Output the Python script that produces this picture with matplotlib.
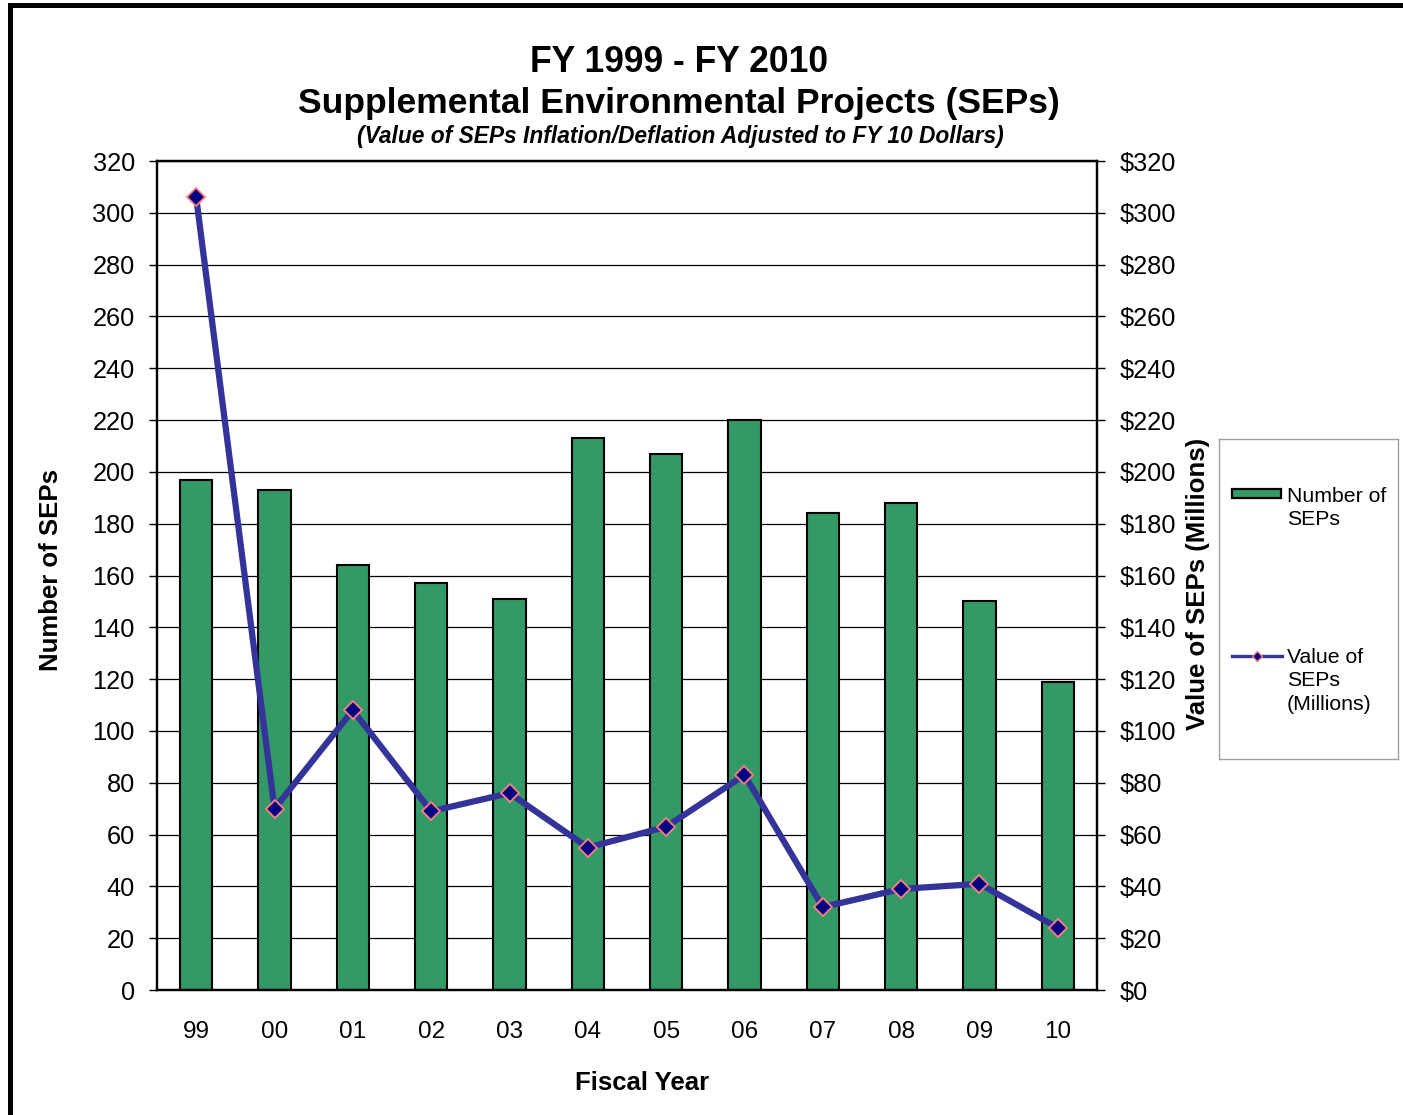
import matplotlib.pyplot as plt
from matplotlib.lines import Line2D
from matplotlib.patches import Rectangle
from matplotlib.ticker import FuncFormatter, MultipleLocator

plt.rcParams['font.family'] = ['Liberation Sans', 'DejaVu Sans']

years = ['99', '00', '01', '02', '03', '04', '05', '06', '07', '08', '09', '10']
num_seps = [197, 193, 164, 157, 151, 213, 207, 220, 184, 188, 150, 119]
value_seps = [306, 70, 108, 69, 76, 55, 63, 83, 32, 39, 41, 24]

bar_green = '#339966'
line_blue = '#333399'
marker_face = '#000080'
marker_edge = '#FF8080'

W, H = 1403, 1115
fig = plt.figure(figsize=(W / 100, H / 100), dpi=100)
ax = fig.add_axes([157 / W, 1 - 990 / H, (1097 - 157) / W, (990 - 161) / H])

x = list(range(len(years)))
ax.bar(x, num_seps, width=0.41, color=bar_green, edgecolor='black', linewidth=1.5, zorder=2)
ax.set_xlim(-0.5, len(years) - 0.5)
ax.set_ylim(0, 320)
ax.yaxis.set_major_locator(MultipleLocator(20))
ax.grid(axis='y', color='black', linewidth=0.9, zorder=1)
ax.set_axisbelow(True)
ax.set_xticks(x)
ax.set_xticklabels(years)
ax.tick_params(axis='x', length=0, pad=22, labelsize=17.5)
ax.tick_params(axis='y', length=6, width=1, labelsize=18.3, pad=10)
ax.set_ylabel('Number of SEPs', fontsize=18.5, fontweight='bold')
ax.yaxis.set_label_coords(-0.1, 0.507)
ax.set_xlabel('Fiscal Year', fontsize=18.5, fontweight='bold')
ax.xaxis.set_label_coords(0.516, -0.098)
for s in ax.spines.values():
    s.set_linewidth(1.6)

ax2 = ax.twinx()
ax2.set_ylim(0, 320)
ax2.yaxis.set_major_locator(MultipleLocator(20))
ax2.yaxis.set_major_formatter(FuncFormatter(lambda v, p: '$%d' % v))
ax2.tick_params(axis='y', length=6, width=1, labelsize=18.3, pad=10)
ax2.plot(x, value_seps, color=line_blue, linewidth=4.5, marker='D', markersize=9.5,
         markerfacecolor=marker_face, markeredgecolor=marker_edge, markeredgewidth=1.3,
         zorder=3)
ax2.set_ylabel('Value of SEPs (Millions)', fontsize=18.5, fontweight='bold')
ax2.yaxis.set_label_coords(1.095, 0.49)
for s in ax2.spines.values():
    s.set_linewidth(1.6)

fig.text(679 / W, 1 - 63 / H, 'FY 1999 - FY 2010', ha='center', va='center',
         fontsize=25.6, fontweight='bold')
fig.text(679 / W, 1 - 104 / H, 'Supplemental Environmental Projects (SEPs)', ha='center',
         va='center', fontsize=25.5, fontweight='bold')
fig.text(680 / W, 1 - 137 / H, '(Value of SEPs Inflation/Deflation Adjusted to FY 10 Dollars)',
         ha='center', va='center', fontsize=16.4, fontweight='bold', style='italic')

# legend, drawn in its own box (pixel units inside the box, y down)
lax = fig.add_axes([1219 / W, 1 - 759 / H, (1398 - 1219) / W, (759 - 439) / H])
lax.set_xlim(0, 179)
lax.set_ylim(320, 0)
lax.set_xticks([])
lax.set_yticks([])
for s in lax.spines.values():
    s.set_color('#a0a0a0')
    s.set_linewidth(1)
lax.add_patch(Rectangle((13, 50), 49, 9, facecolor=bar_green, edgecolor='black',
                        linewidth=1.6))
lax.plot([13, 38, 63], [217, 217, 217], color=line_blue, linewidth=2.4, marker='D',
         markersize=5.5, markevery=[1], markerfacecolor=marker_face,
         markeredgecolor=marker_edge, markeredgewidth=1)
lax.text(68, 48, 'Number of\nSEPs', ha='left', va='top', fontsize=15.3, linespacing=1.3)
lax.text(68, 209, 'Value of\nSEPs\n(Millions)', ha='left', va='top', fontsize=15.3,
         linespacing=1.3)

# outer border
fig.add_artist(Line2D([10 / W, 10 / W], [0, 1 - 5 / H], transform=fig.transFigure,
                      color='black', linewidth=3.6))
fig.add_artist(Line2D([10 / W, 1], [1 - 5 / H, 1 - 5 / H], transform=fig.transFigure,
                      color='black', linewidth=3.6))

fig.savefig('out.png', dpi=100)
